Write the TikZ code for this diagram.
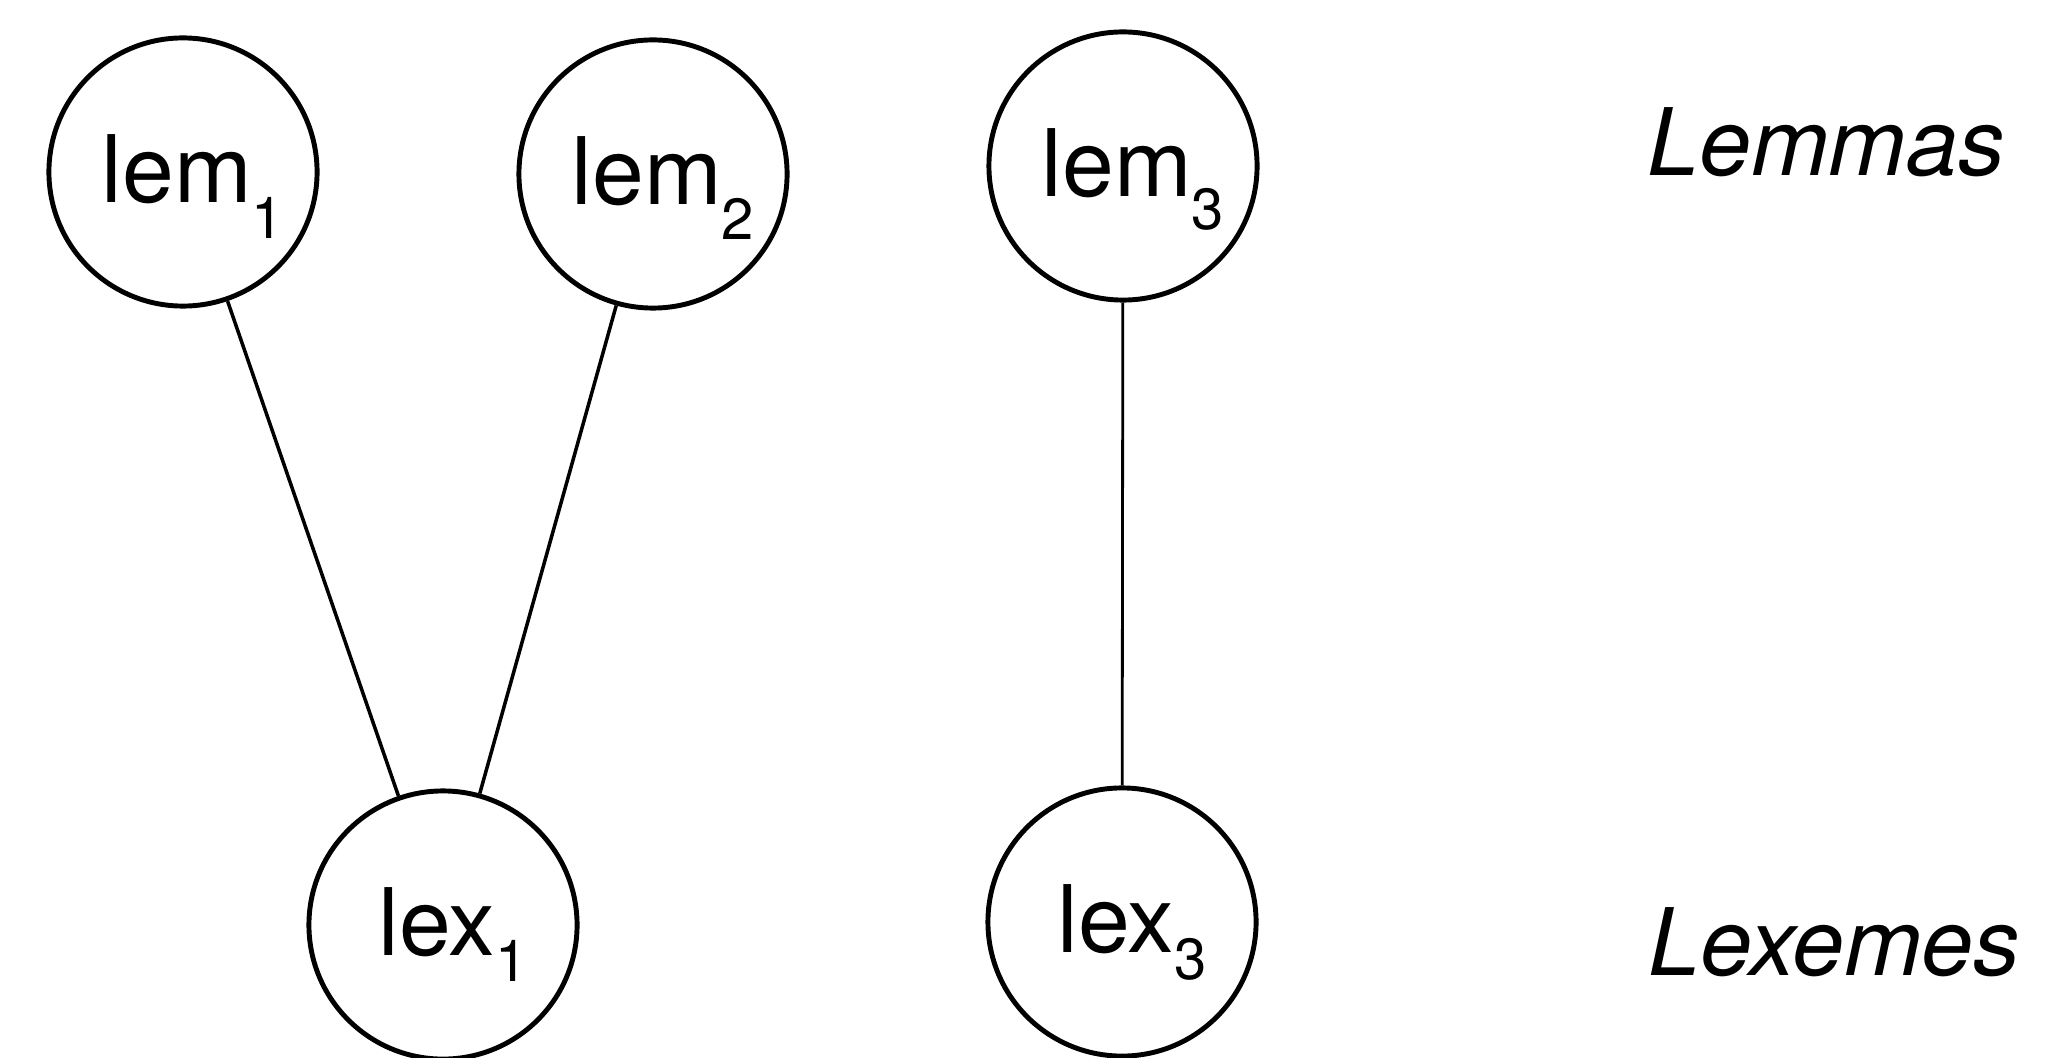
\documentclass[tikz,border=0pt]{standalone}
\usepackage{fontspec}
\newfontfamily\helv{TeX Gyre Heros}
\newcommand\nodelabel[3]{\hspace{0.2cm}#1\raisebox{-#3}{\fontsize{16.5}{18}\selectfont #2}}
\tikzset{
  ent/.style={circle, draw, line width=1.4pt, minimum size=2.68cm, inner sep=0pt,
    font=\helv\fontsize{26.5}{30}\selectfont, text height=0.75cm, text depth=0.15cm},
  layer/.style={anchor=base west, inner sep=0pt, font=\helv\itshape\fontsize{26.5}{30}\selectfont},
  link/.style={line width=1pt}
}
\begin{document}
\begin{tikzpicture}[x=0.01cm,y=-0.01cm]
  \useasboundingbox (0,0) rectangle (2052,1058);
  \node[ent] (lem1) at (183,172) {\nodelabel{lem}{1}{0.36cm}};
  \node[ent] (lem2) at (653,174) {\nodelabel{lem}{2}{0.35cm}};
  \node[ent] (lem3) at (1123,166) {\nodelabel{lem}{3}{0.33cm}};
  \node[ent] (lex1) at (443,925) {\nodelabel{lex}{1}{0.26cm}};
  \node[ent] (lex3) at (1122,922) {\nodelabel{lex}{3}{0.27cm}};
  \node[layer] (lemmas) at (1647,176) {Lemmas};
  \node[layer] (lexemes) at (1648,975) {Lexemes};
  \draw[link] (lem1) -- (lex1);
  \draw[link] (lem2) -- (lex1);
  \draw[link, line width=0.8pt] (lem3) -- (lex3);
\end{tikzpicture}
\end{document}
